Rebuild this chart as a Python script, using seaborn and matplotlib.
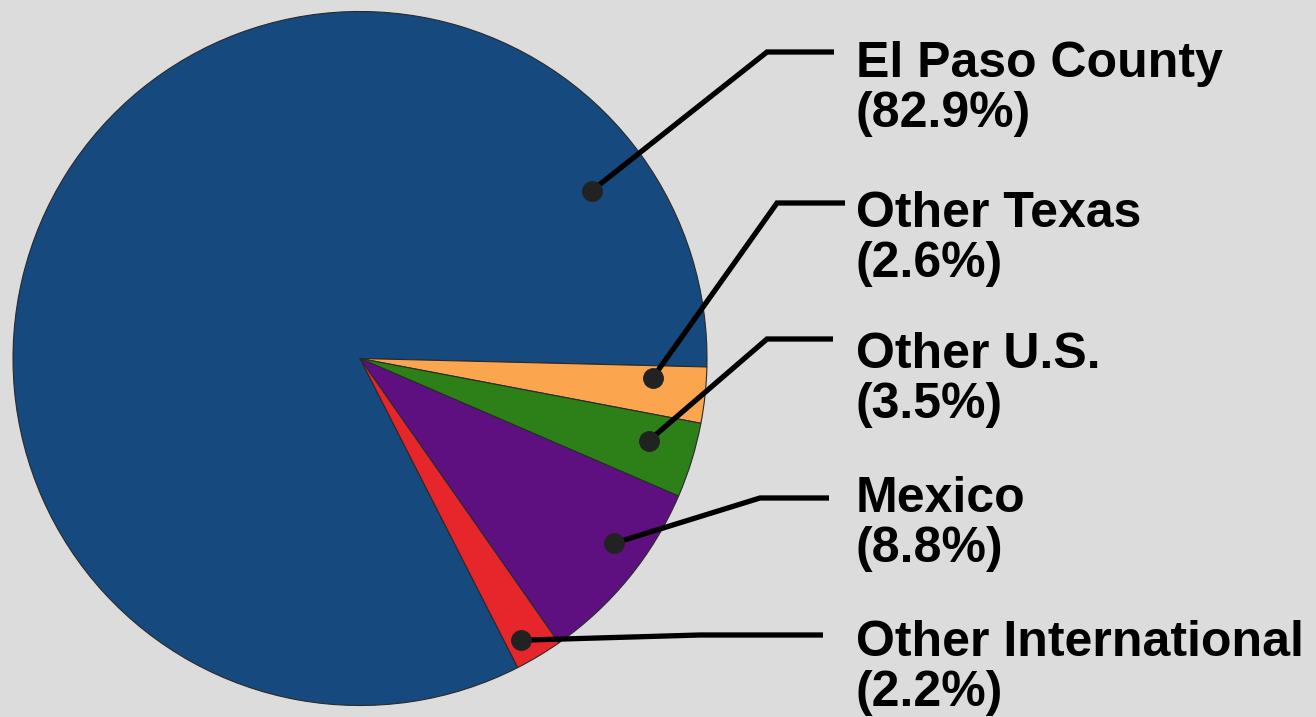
import numpy as np
import matplotlib
matplotlib.use("Agg")
import matplotlib.pyplot as plt
import seaborn as sns

# ---- data ----
categories = ["El Paso County", "Other Texas", "Other U.S.", "Mexico", "Other International"]
shares = [82.9, 2.6, 3.5, 8.8, 2.2]
slice_colors = ["#16497d", "#fba64f", "#2d7f17", "#5f1080", "#e6262b"]

# ---- layout (pixel space of the 1316x717 canvas, y measured from top) ----
W, H = 1316, 717
CENTER = (360, 358.5)
RADIUS = 347
START = -1.4  # angle of the boundary between El Paso County and Other Texas
# dot placement inside each wedge: (fraction along wedge angle, fraction of radius)
dot_place = [(0.125, 0.825), (0.74, 0.845), (0.59, 0.865), (0.60, 0.905), (0.34, 0.935)]
elbows = [(767, 52), (777, 203), (767, 339), (760, 498), (700, 635)]
line_ends = [834, 845, 833, 829, 823]
baselines = [77, 227, 368, 512, 656]
TEXT_X = 856
LINE_GAP = 50

BG = "#dcdcdc"
sns.set_theme(style="white", rc={"figure.facecolor": BG, "axes.facecolor": BG})
plt.rcParams["font.family"] = ["Liberation Sans", "DejaVu Sans"]


def P(x, y):
    return x, H - y


fig = plt.figure(figsize=(W / 100, H / 100), dpi=100)
ax = fig.add_axes([0, 0, 1, 1])
cx, cy = P(*CENTER)
wedges, _ = ax.pie(
    shares,
    colors=sns.color_palette(slice_colors),
    startangle=START + 3.6 * shares[0],
    counterclock=False,
    center=(cx, cy),
    radius=RADIUS,
    wedgeprops=dict(edgecolor="#2a2a2a", linewidth=0.8),
)
ax.set_xlim(0, W)
ax.set_ylim(0, H)
ax.set_aspect("equal")
ax.axis("off")

for w, cat, val, (fa, fr), el, xe, bl in zip(wedges, categories, shares, dot_place,
                                              elbows, line_ends, baselines):
    ang = np.deg2rad(w.theta1 + fa * (w.theta2 - w.theta1))
    dx = cx + fr * RADIUS * np.cos(ang)
    dy = cy + fr * RADIUS * np.sin(ang)
    ex, ey = P(*el)
    ax.plot([dx, ex, xe], [dy, ey, ey], color="black", lw=3.8,
            solid_joinstyle="miter", solid_capstyle="butt", zorder=4)
    ax.plot([dx], [dy], "o", ms=14, color="#222222", zorder=5)
    tx, ty = P(TEXT_X, bl)
    ax.text(tx, ty, cat, fontsize=36, fontweight="bold", ha="left", va="baseline",
            color="black")
    ax.text(tx, ty - LINE_GAP, f"({val:.1f}%)", fontsize=36, fontweight="bold",
            ha="left", va="baseline", color="black")

fig.savefig("out.png", dpi=100, facecolor=BG)
